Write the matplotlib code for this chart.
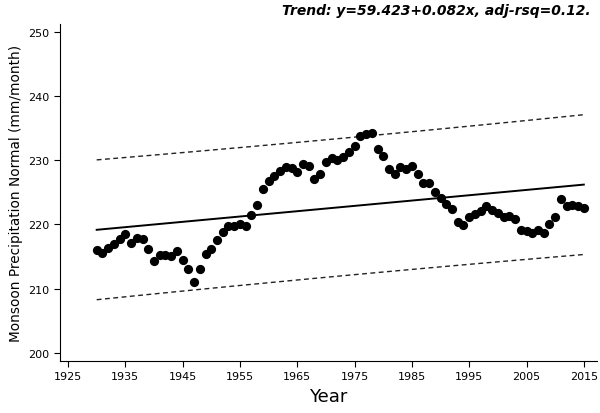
import numpy as np
import matplotlib
matplotlib.use('Agg')
import matplotlib.pyplot as plt

# monsoon precipitation normal
years = np.arange(1930, 2016)
precip = [
    216.0, 215.5, 216.3, 216.9, 217.8, 218.5, 217.1, 217.9, 217.7, 216.2,  # 1930-39
    214.3, 215.3, 215.2, 215.1, 215.9, 214.5, 213.1, 211.1, 213.0, 215.4,  # 1940-49
    216.1, 217.6, 218.8, 219.7, 219.7, 220.0, 219.7, 221.4, 223.1, 225.5,  # 1950-59
    226.8, 227.6, 228.3, 228.9, 228.8, 228.1, 229.4, 229.1, 227.1, 227.9,  # 1960-69
    229.7, 230.3, 230.1, 230.5, 231.3, 232.2, 233.8, 234.1, 234.3, 231.7,  # 1970-79
    230.7, 228.7, 227.9, 229.0, 228.7, 229.1, 227.9, 226.5, 226.5, 225.0,  # 1980-89
    224.1, 223.2, 222.4, 220.4, 219.9, 221.1, 221.7, 222.1, 222.9, 222.2,  # 1990-99
    221.8, 221.1, 221.3, 220.9, 219.2, 218.9, 218.7, 219.2, 218.7, 220.1,  # 2000-09
    221.1, 223.9, 222.9, 223.1, 222.9, 222.6,                              # 2010-15
]
title_txt = "Trend: y=59.423+0.082x, adj-rsq=0.12."
xticks = list(range(1925, 2016, 10))
yticks = list(range(200, 251, 10))

y = np.array(precip)
n = len(y)

# linear fit + 95% prediction band
b, a = np.polyfit(years, y, 1)
fit = a + b * years
resid = y - fit
s = np.sqrt(np.sum(resid ** 2) / (n - 2))
xm = years.mean()
se_pred = s * np.sqrt(1 + 1 / n + (years - xm) ** 2 / np.sum((years - xm) ** 2))
band = 1.99 * se_pred

fig = plt.figure(figsize=(6, 4.14), dpi=100)
ax = fig.add_axes([0.1, 0.126, 0.895, 0.814])

ax.plot(years, fit + band, color='#222222', linestyle=(0, (3.5, 2.5)), linewidth=1.0)
ax.plot(years, fit - band, color='#222222', linestyle=(0, (3.5, 2.5)), linewidth=1.0)
ax.plot(years, fit, color='black', linewidth=1.4)
ax.scatter(years, y, s=44, color='black', zorder=3, linewidths=0)

ax.set_xlim(1923.6, 2017.3)
ax.set_ylim(198.75, 251.25)
ax.set_xticks(xticks)
ax.set_yticks(yticks)
ax.tick_params(labelsize=8, length=4, width=0.8, direction='out')
ax.spines['top'].set_visible(False)
ax.spines['right'].set_visible(False)
ax.set_xlabel('Year', fontsize=13)
ax.set_ylabel('Monsoon Precipitation Normal (mm/month)', fontsize=9.8)

fig.text(0.985, 0.99, title_txt, ha='right', va='top', fontsize=10,
         fontweight='bold', fontstyle='italic', family='DejaVu Sans')

fig.savefig('out.png', dpi=100)
